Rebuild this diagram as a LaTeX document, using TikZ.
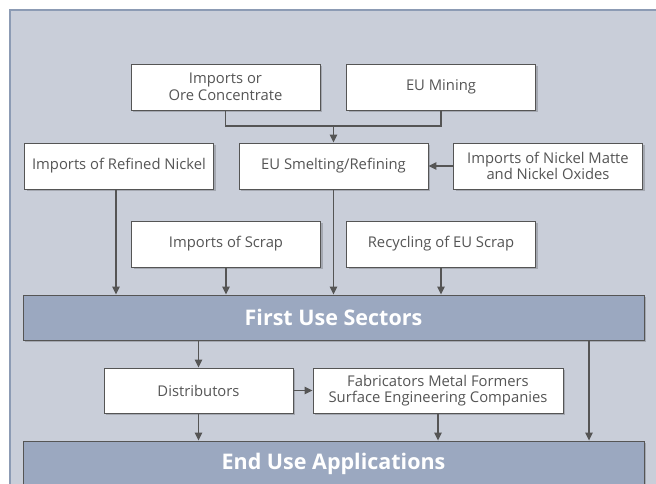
\documentclass[tikz,border=0pt]{standalone}
\usepackage{fontspec}
\setmainfont{Open Sans}
\usetikzlibrary{arrows.meta,shadows}
\definecolor{panel}{RGB}{201,206,217}
\definecolor{panelline}{RGB}{140,155,180}
\definecolor{bar}{RGB}{155,168,192}
\definecolor{ink}{RGB}{85,85,85}
\tikzset{
  box/.style={draw=ink, line width=0.9pt, fill=white, text=ink,
    minimum width=189pt, minimum height=46pt, align=center, inner sep=2pt,
    font=\fontsize{14.8}{16.5}\selectfont,
    drop shadow={shadow xshift=2pt, shadow yshift=-2pt, opacity=.18, fill=black}},
  sector/.style={box, fill=bar, text=white, minimum width=621pt, minimum height=45pt,
    font=\fontsize{21.5}{24}\selectfont\bfseries},
  flow/.style={draw=ink, line width=1.2pt},
  >={Triangle[length=8pt,width=7.5pt]}
}
\begin{document}
\begin{tikzpicture}[x=1pt,y=-1pt]
\useasboundingbox (0,0) rectangle (656,483);
\clip (0,0) rectangle (656,483);
\fill[panel] (10,10) rectangle (660,490);
\draw[panelline, line width=1.5pt] (10,490) -- (10,10) -- (660,10);

\node[box] (ore)     at (225.5,87)  {Imports or\\Ore Concentrate};
\node[box] (mining)  at (441,87)    {EU Mining};
\node[box] (refined) at (119,166)   {Imports of Refined Nickel};
\node[box] (smelt)   at (333.5,166) {EU Smelting/Refining};
\node[box] (matte)   at (548,166)   {Imports of Nickel Matte\\and Nickel Oxides};
\node[box] (scrap)   at (226,244)   {Imports of Scrap};
\node[box] (recyc)   at (441,244)   {Recycling of EU Scrap};
\node[sector] (fus)  at (333.5,317.5) {First Use Sectors};
\node[box, minimum height=45pt] (dist) at (198.5,390.5) {Distributors};
\node[box, minimum height=45pt, minimum width=250pt] (fab) at (438,390.5)
  {Fabricators Metal Formers\\Surface Engineering Companies};
\node[sector] (eua)  at (333.5,463.5) {End Use Applications};

\coordinate (join) at (333.5,126);
\draw[flow] (ore.south) |- (join) -| (mining.south);
\draw[flow,->] (join) -- (smelt.north);
\draw[flow,->] (matte) -- (smelt);
\draw[flow,->] ([xshift=-3pt]refined.south) -- ([xshift=-3pt]refined.south |- fus.north);
\draw[flow,->] (scrap) -- (scrap |- fus.north);
\draw[flow,->] (smelt) -- (smelt |- fus.north);
\draw[flow,->] (recyc) -- (recyc |- fus.north);
\draw[flow,->] (fus.south -| dist) -- (dist);
\draw[flow,->] (dist) -- (fab);
\draw[flow,->] (dist) -- (dist |- eua.north);
\draw[flow,->] (fab) -- (fab |- eua.north);
\draw[flow,->] ([xshift=255.5pt]fus.south) -- ([xshift=255.5pt]eua.north);
\end{tikzpicture}
\end{document}
